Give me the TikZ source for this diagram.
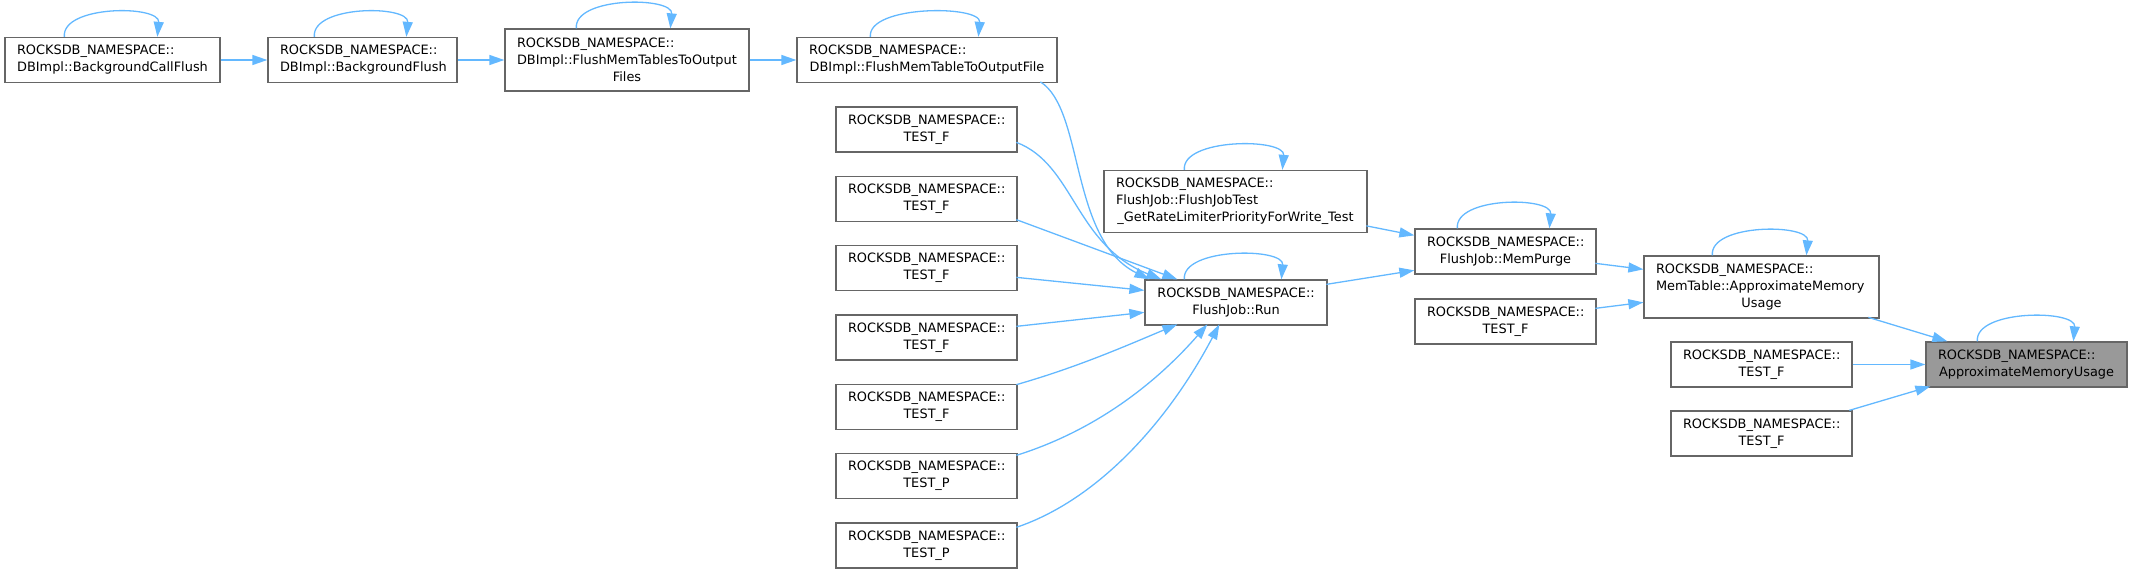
\documentclass[tikz,border=0pt]{standalone}
\usepackage{fontspec}
\setmainfont{DejaVu Sans}
\usetikzlibrary{arrows.meta,calc}
\definecolor{edgec}{HTML}{63B8FF}
\definecolor{bordc}{HTML}{666666}
\definecolor{hlc}{HTML}{999999}
\newcommand\LL[1]{\noindent\hbox to\hsize{#1\hfil}}
\newcommand\selfloop[3]{\draw[ed] ($(#1.north west)+(#2,0)$) .. controls +(-3,-32) and +(3,-32) .. ($(#1.north west)+(#3,0)$);}
\begin{document}
\begin{tikzpicture}[x=1pt,y=-1pt,
  nd/.style={draw=bordc, line width=1.3pt, fill=white, inner xsep=12pt, inner ysep=0pt,
    align=center, font=\fontsize{12.9}{17}\selectfont, minimum height=45pt},
  tall/.style={minimum height=62pt},
  wd/.code={\pgfmathsetmacro\tw{#1-24}\edef\tmp{\noexpand\tikzset{minimum width=#1pt,text width=\tw pt}}\tmp},
  ed/.style={draw=edgec, line width=1.3pt, -{Triangle[length=15pt,width=10pt]}},
]
\useasboundingbox (0,0) rectangle (2132,573);
% nodes
\node[nd,wd=215] (bcf) at (112.5,60) {\LL{ROCKSDB\_NAMESPACE::}\\DBImpl::BackgroundCallFlush};
\node[nd,wd=189] (bf) at (362.5,60) {\LL{ROCKSDB\_NAMESPACE::}\\DBImpl::BackgroundFlush};
\node[nd,tall,wd=244] (fmts) at (627,60) {\LL{ROCKSDB\_NAMESPACE::}\\\LL{DBImpl::FlushMemTablesToOutput}\\Files};
\node[nd,wd=260] (fmt) at (927,60) {\LL{ROCKSDB\_NAMESPACE::}\\DBImpl::FlushMemTableToOutputFile};
\node[nd,wd=181] (t1) at (926.5,129.5) {ROCKSDB\_NAMESPACE::\\TEST\_F};
\node[nd,wd=181] (t2) at (926.5,198.8) {ROCKSDB\_NAMESPACE::\\TEST\_F};
\node[nd,wd=181] (t3) at (926.5,268.2) {ROCKSDB\_NAMESPACE::\\TEST\_F};
\node[nd,wd=181] (t4) at (926.5,337.5) {ROCKSDB\_NAMESPACE::\\TEST\_F};
\node[nd,wd=181] (t5) at (926.5,406.8) {ROCKSDB\_NAMESPACE::\\TEST\_F};
\node[nd,wd=181] (p1) at (926.5,476.2) {ROCKSDB\_NAMESPACE::\\TEST\_P};
\node[nd,wd=181] (p2) at (926.5,545.5) {ROCKSDB\_NAMESPACE::\\TEST\_P};
\node[nd,tall,wd=263] (fjt) at (1235.5,201.5) {\LL{ROCKSDB\_NAMESPACE::}\\\LL{FlushJob::FlushJobTest}\\\_GetRateLimiterPriorityForWrite\_Test};
\node[nd,wd=182] (run) at (1236,302.5) {ROCKSDB\_NAMESPACE::\\FlushJob::Run};
\node[nd,wd=181] (mp) at (1505.5,251.5) {ROCKSDB\_NAMESPACE::\\FlushJob::MemPurge};
\node[nd,wd=181] (tm) at (1505.5,321.5) {ROCKSDB\_NAMESPACE::\\TEST\_F};
\node[nd,tall,wd=235] (mt) at (1761.5,287) {\LL{ROCKSDB\_NAMESPACE::}\\\LL{MemTable::ApproximateMemory}\\Usage};
\node[nd,wd=201,fill=hlc] (amu) at (2026.5,364.5) {\LL{ROCKSDB\_NAMESPACE::}\\ApproximateMemoryUsage};
\node[nd,wd=181] (r1) at (1761.5,364.5) {ROCKSDB\_NAMESPACE::\\TEST\_F};
\node[nd,wd=181] (r2) at (1761.5,433.5) {ROCKSDB\_NAMESPACE::\\TEST\_F};
% edges
\draw[ed] (bcf.east) -- (bf.west);
\draw[ed] (bf.east) -- (fmts.west);
\draw[ed] (fmts.east) -- (fmt.west);
\draw[ed] ($(fmt.north west)+(244,45)$) .. controls +(44,27.5) and +(-80,-40) .. ($(run.north west)+(5,0)$);
\draw[ed] ($(t1.north west)+(181,36)$) .. controls +(58,22) and +(-87,-35) .. ($(run.north west)+(17,0)$);
\draw[ed] ($(t2.north west)+(181,44)$) -- ($(run.north west)+(33,0)$);
\draw[ed] ($(t3.north west)+(181,32.3)$) -- ($(run.north west)+(0,11)$);
\draw[ed] ($(t4.north west)+(181,12)$) -- ($(run.north west)+(0,33)$);
\draw[ed] ($(t5.north west)+(181,1)$) .. controls +(63,-18) and +(-48,20) .. ($(run.north west)+(33,45)$);
\draw[ed] ($(p1.north west)+(181,2.3)$) .. controls +(83,-26) and +(-48,55) .. ($(run.north west)+(63,45)$);
\draw[ed] ($(p2.north west)+(181,5)$) .. controls +(83,-28) and +(-50,95) .. ($(run.north west)+(75,45)$);
\draw[ed] ($(run.north west)+(182,5)$) -- ($(mp.north west)+(0,42)$);
\draw[ed] ($(fjt.north west)+(263,56)$) -- ($(mp.north west)+(0,7)$);
\draw[ed] ($(mp.north west)+(181,35)$) -- ($(mt.north west)+(0,14)$);
\draw[ed] ($(tm.north west)+(181,10)$) -- ($(mt.north west)+(0,47)$);
\draw[ed] ($(mt.north west)+(225,62)$) -- ($(amu.north west)+(22,0)$);
\draw[ed] (r1.east) -- (amu.west);
\draw[ed] ($(r2.north west)+(179,0)$) -- ($(amu.north west)+(5,45)$);
% self loops
\selfloop{bcf}{60}{153}
\selfloop{bf}{47}{139}
\selfloop{fmts}{72}{166}
\selfloop{fmt}{74}{182}
\selfloop{fjt}{81}{179}
\selfloop{run}{40}{137}
\selfloop{mp}{43}{135}
\selfloop{mt}{69}{163}
\selfloop{amu}{52}{148}
\end{tikzpicture}
\end{document}
